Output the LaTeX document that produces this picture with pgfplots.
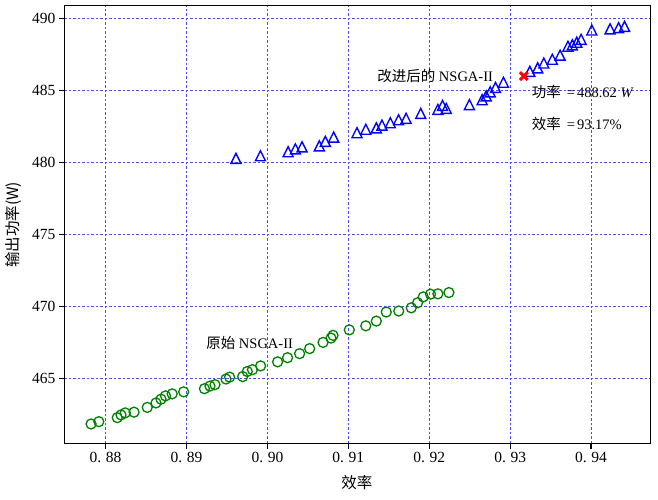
\documentclass[border=0pt]{standalone}
\usepackage{fontspec}
\setmainfont{Liberation Serif}
\newfontfamily\cjk{Noto Sans CJK SC}
\usepackage{pgfplots}
\usepackage{pgfplotstable}
\pgfplotsset{compat=1.18}

% matplotlib-style triangle (width = height)
\pgfdeclareplotmark{mtri}{%
  \pgfpathmoveto{\pgfqpoint{0pt}{\pgfplotmarksize}}%
  \pgfpathlineto{\pgfqpoint{-\pgfplotmarksize}{-\pgfplotmarksize}}%
  \pgfpathlineto{\pgfqpoint{\pgfplotmarksize}{-\pgfplotmarksize}}%
  \pgfpathclose\pgfusepathqstroke}

% original NSGA-II
\pgfplotstableread{
eff     pwr
0.87821 461.85
0.87917 462.01
0.88144 462.29
0.88191 462.48
0.88243 462.62
0.88352 462.67
0.88515 463.00
0.88623 463.31
0.88685 463.57
0.88741 463.80
0.88823 463.94
0.88965 464.08
0.89222 464.30
0.89290 464.48
0.89352 464.58
0.89488 464.97
0.89533 465.10
0.89695 465.14
0.89751 465.49
0.89815 465.62
0.89916 465.88
0.90126 466.16
0.90249 466.45
0.90398 466.73
0.90522 467.08
0.90688 467.51
0.90786 467.81
0.90811 468.00
0.91012 468.38
0.91216 468.66
0.91346 468.99
0.91469 469.62
0.91623 469.69
0.91778 469.91
0.91856 470.26
0.91926 470.67
0.92016 470.86
0.92107 470.88
0.92243 470.97
}\orig

% improved NSGA-II
\pgfplotstableread{
eff     pwr
0.89611 480.28
0.89914 480.46
0.90256 480.74
0.90346 480.94
0.90428 481.08
0.90642 481.15
0.90716 481.46
0.90819 481.76
0.91107 482.06
0.91216 482.30
0.91346 482.40
0.91416 482.59
0.91519 482.75
0.91621 482.96
0.91714 483.06
0.91895 483.40
0.92107 483.68
0.92164 483.96
0.92210 483.75
0.92496 484.01
0.92654 484.35
0.92704 484.62
0.92753 484.90
0.92819 485.21
0.92917 485.56
0.93243 486.32
0.93340 486.56
0.93416 486.90
0.93521 487.16
0.93617 487.44
0.93714 488.06
0.93768 488.16
0.93823 488.34
0.93877 488.54
0.94009 489.19
0.94235 489.27
0.94340 489.35
0.94414 489.44
}\impr

\begin{document}
\begin{tikzpicture}
\useasboundingbox (-64.3pt,-56.7pt) rectangle (593.7pt,443.3pt);
\begin{axis}[
    scale only axis, width=586.4pt, height=437.6pt,
    xmin=0.8749, xmax=0.94737, ymin=460.51, ymax=490.875,
    xtick={0.88,0.89,0.90,0.91,0.92,0.93,0.94},
    xticklabels={0.\hspace{.3em}88,0.\hspace{.3em}89,0.\hspace{.3em}90,0.\hspace{.3em}91,0.\hspace{.3em}92,0.\hspace{.3em}93,0.\hspace{.3em}94},
    ytick={465,470,475,480,485,490},
    /pgf/number format/assume math mode=true,
    tick label style={font=\fontsize{15.5}{18}\selectfont},
    tick pos=left, tick align=outside, major tick length=5.5pt,
    tick style={black, line width=1.2pt},
    axis line style={line width=1.3pt},
    grid=major,
    major grid style={blue!70, dash pattern=on 2.5pt off 2pt, line width=1pt},
    xlabel={\cjk 效率}, ylabel={\cjk 输出功率(W)},
    label style={font=\fontsize{15.5}{18}\selectfont},
    xlabel style={at={(axis description cs:0.499,-0.0907)}, anchor=center},
    ylabel style={at={(axis description cs:-0.0875,0.499)}, anchor=center},
]
\addplot[only marks, mark=o, mark size=5pt, draw=green!50!black, line width=1.3pt]
    table[x=eff, y=pwr] {\orig};
\addplot[only marks, mark=mtri, mark size=5pt, draw=blue, line width=1.4pt]
    table[x=eff, y=pwr] {\impr};
\addplot[only marks, mark=x, mark size=5.5pt, draw=red, line width=3pt]
    coordinates {(0.93169,485.99)};
\node[anchor=east, inner sep=0pt, font=\fontsize{14.5}{17}\selectfont] at (axis cs:0.9279,486.01) {{\cjk 改进后的} NSGA-II};
\node[anchor=west, inner sep=0pt, font=\fontsize{14.5}{17}\selectfont] at (axis cs:0.93267,484.9) {{\cjk 功率}\hspace{0.4em}=\hspace{0.15em}488.62 \textit{W}};
\node[anchor=west, inner sep=0pt, font=\fontsize{14.5}{17}\selectfont] at (axis cs:0.93267,482.64) {{\cjk 效率}\hspace{0.4em}=\hspace{0.15em}93.17\%};
\node[anchor=west, inner sep=0pt, font=\fontsize{14.5}{17}\selectfont] at (axis cs:0.89243,467.5) {{\cjk 原始} NSGA-II};
\end{axis}
\end{tikzpicture}
\end{document}
